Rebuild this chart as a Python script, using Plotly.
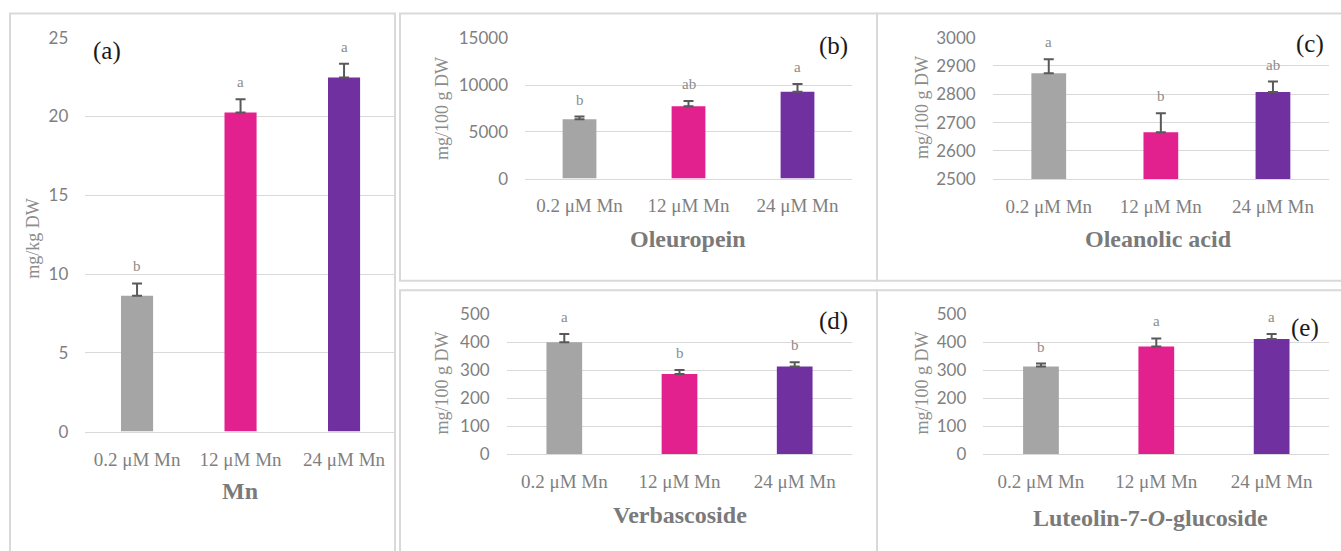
import plotly.graph_objects as go

# ---------------- data ----------------
categories = ["0.2 μM Mn", "12 μM Mn", "24 μM Mn"]
bar_colors = ["#A5A5A5", "#E2208E", "#7030A0"]

mn_mean = [8.62, 20.25, 22.47]
mn_err = [0.78, 0.85, 0.87]
mn_letters = ["b", "a", "a"]

oleuropein_mean = [6350, 7735, 9295]
oleuropein_err = [280, 565, 820]
oleuropein_letters = ["b", "ab", "a"]

oleanolic_mean = [2874, 2666, 2808]
oleanolic_err = [50, 67, 37]
oleanolic_letters = ["a", "b", "ab"]

verbascoside_mean = [400, 287, 314]
verbascoside_err = [30, 14, 15]
verbascoside_letters = ["a", "b", "b"]

luteolin_mean = [314, 385, 412]
luteolin_err = [10, 29, 18]
luteolin_letters = ["b", "a", "a"]

# ---------------- layout helpers ----------------
W, H = 1341, 551
# vertical calibration of the rendered page (observed offset / scale)
V_OFF, V_S = 9.96, 0.963

def fx(v):
    return v / W
def fy(v):
    return 1 - ((v - V_OFF) / V_S) / H

SERIF = "Palatino Linotype, Book Antiqua, Liberation Serif, serif"
SANS = "Lato, Calibri, sans-serif"
GRID = "#D9D9D9"
TXT = "#7F7F7F"

panels = [
    dict(mean=mn_mean, err=mn_err, letters=mn_letters,
         box=(85.3, 395.8, 36.7, 431.0), yr=[0, 25], dtick=5,
         ytitle="mg/kg DW", ytpos=(33, 238), xtitle="Mn", xtpos=(240, 491),
         tag="(a)", tagpos=(107, 50)),
    dict(mean=oleuropein_mean, err=oleuropein_err, letters=oleuropein_letters,
         box=(525.0, 852.0, 37.3, 177.7), yr=[0, 15000], dtick=5000,
         ytitle="mg/100 g DW", ytpos=(442, 108), xtitle="Oleuropein", xtpos=(688, 238),
         tag="(b)", tagpos=(834, 45)),
    dict(mean=oleanolic_mean, err=oleanolic_err, letters=oleanolic_letters,
         box=(992.7, 1329.0, 36.7, 178.3), yr=[2500, 3000], dtick=100,
         ytitle="mg/100 g DW", ytpos=(922, 107), xtitle="Oleanolic acid", xtpos=(1158, 238),
         tag="(c)", tagpos=(1310, 43)),
    dict(mean=verbascoside_mean, err=verbascoside_err, letters=verbascoside_letters,
         box=(506.7, 852.3, 313.7, 453.7), yr=[0, 500], dtick=100,
         ytitle="mg/100 g DW", ytpos=(442, 383), xtitle="Verbascoside", xtpos=(680, 515),
         tag="(d)", tagpos=(834, 320)),
    dict(mean=luteolin_mean, err=luteolin_err, letters=luteolin_letters,
         box=(983.3, 1329.3, 313.7, 453.7), yr=[0, 500], dtick=100,
         ytitle="mg/100 g DW", ytpos=(922, 383), xtitle="Luteolin-7-<i>O</i>-glucoside",
         xtpos=(1150, 518), tag="(e)", tagpos=(1305, 327)),
]

fig = go.Figure()
annotations = []
layout_axes = {}

for i, p in enumerate(panels):
    n = "" if i == 0 else str(i + 1)
    xa, ya = "x" + n, "y" + n
    fig.add_trace(go.Bar(
        x=categories, y=p["mean"], xaxis=xa, yaxis=ya,
        marker=dict(color=bar_colors, line=dict(width=0)),
        width=0.31,
        error_y=dict(type="data", symmetric=False, array=p["err"],
                     arrayminus=[0] * len(p["err"]), color="#595959",
                     thickness=2, width=5),
        showlegend=False, hoverinfo="skip",
    ))
    x0, x1, y0, y1 = p["box"]
    layout_axes["xaxis" + n] = dict(
        domain=[fx(x0), fx(x1)], anchor=ya, type="category",
        showgrid=False, showline=True, linecolor=GRID, linewidth=1.3,
        ticks="", tickfont=dict(family=SERIF, size=19, color=TXT),
        ticklabelstandoff=10, fixedrange=True,
    )
    layout_axes["yaxis" + n] = dict(
        domain=[fy(y1), fy(y0)], anchor=xa, range=p["yr"], dtick=p["dtick"],
        tick0=p["yr"][0], tickformat="d", showgrid=True, gridcolor=GRID, gridwidth=1.3,
        zeroline=False, showline=False, ticks="",
        tickfont=dict(family=SANS, size=17, color=TXT),
        ticklabelstandoff=16, fixedrange=True,
    )
    # significance letters
    for c, m, e, L in zip(categories, p["mean"], p["err"], p["letters"]):
        annotations.append(dict(
            x=c, y=m + e, xref=xa, yref=ya, text=L, showarrow=False,
            yanchor="middle", yshift=17,
            font=dict(family=SERIF, size=15, color="#8C8C8C"),
        ))
    # axis titles and panel tags
    annotations.append(dict(
        x=fx(p["ytpos"][0]), y=fy(p["ytpos"][1]), xref="paper", yref="paper",
        text=p["ytitle"], textangle=-90, showarrow=False,
        xanchor="center", yanchor="middle",
        font=dict(family=SERIF, size=18, color="#8C8C8C"),
    ))
    annotations.append(dict(
        x=fx(p["xtpos"][0]), y=fy(p["xtpos"][1]), xref="paper", yref="paper",
        text="<b>" + p["xtitle"] + "</b>", showarrow=False,
        xanchor="center", yanchor="middle",
        font=dict(family=SERIF, size=24, color="#7A7A7A"),
    ))
    annotations.append(dict(
        x=fx(p["tagpos"][0]), y=fy(p["tagpos"][1]), xref="paper", yref="paper",
        text=p["tag"], showarrow=False, xanchor="center", yanchor="middle",
        font=dict(family=SERIF, size=25, color="#1A1A1A"),
    ))

# panel frames
frames = [
    (10, 395, 12.5, 640),
    (400, 877, 12.5, 280),
    (877, 1420, 12.5, 280),
    (400, 877, 289.5, 640),
    (877, 1420, 289.5, 640),
]
shapes = []
for (a, b, c, d) in frames:
    shapes.append(dict(type="rect", xref="paper", yref="paper",
                       x0=fx(a), x1=fx(b), y0=fy(d), y1=fy(c),
                       line=dict(color=GRID, width=2), layer="below"))

fig.update_layout(
    width=W, height=H, margin=dict(l=0, r=0, t=0, b=0),
    paper_bgcolor="white", plot_bgcolor="white",
    annotations=annotations, shapes=shapes, showlegend=False,
    **layout_axes,
)

post = (
    "var h=document.documentElement,b=document.body;"
    "h.style.margin='0';h.style.padding='0';h.style.overflow='hidden';"
    "b.style.margin='0';b.style.padding='0';b.style.overflow='hidden';"
)

fig.write_html("out.html", config={"displayModeBar": False}, post_script=post)
